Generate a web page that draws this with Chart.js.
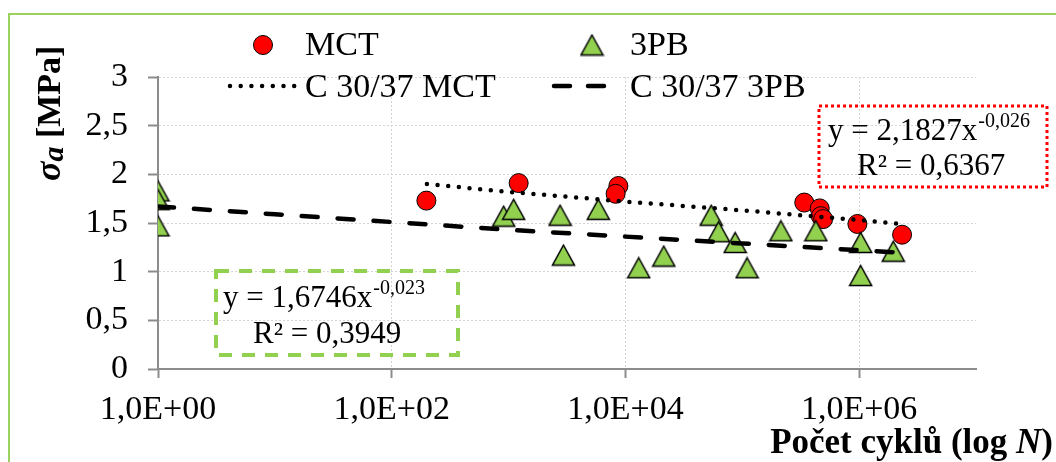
<!DOCTYPE html>
<html>
<head>
<meta charset="utf-8">
<script src="https://cdn.jsdelivr.net/npm/chart.js@4/dist/chart.umd.min.js"></script>
<style>
  html, body { margin: 0; padding: 0; background: #fff; }
  #wrap { width: 1056px; height: 462px; position: relative; }
</style>
</head>
<body>
<div id="wrap"><canvas id="fatigueChart" width="1056" height="462"></canvas></div>
<script>
// ---- data ----
const mctCycles = [198, 1220, 8700, 8240, 339000, 460000, 470000, 492000, 966000, 2330000];
const mctStress = [1.73, 1.91, 1.88, 1.80, 1.71, 1.65, 1.57, 1.54, 1.49, 1.38];

const pbCycles = [1, 1, 1, 908, 1105, 2760, 2950, 5860, 13000, 21300, 54200, 62700, 86900, 110000, 214000, 426000, 1030000, 1030000, 1960000];
const pbStress = [1.83, 1.74, 1.47, 1.57, 1.64, 1.58, 1.17, 1.64, 1.04, 1.16, 1.58, 1.41, 1.30, 1.04, 1.42, 1.42, 1.30, 0.96, 1.21];

// trend lines (C 30/37), read at a few cycle counts
const mctTrendCycles = [200, 1000, 10000, 100000, 1000000, 2330000];
const mctTrendStress = [1.90, 1.82, 1.72, 1.63, 1.53, 1.49];
const pbTrendCycles = [1, 10, 100, 1000, 10000, 100000, 1000000, 1960000];
const pbTrendStress = [1.67, 1.59, 1.51, 1.43, 1.36, 1.29, 1.22, 1.20];

const xTickValues = [1, 1e2, 1e4, 1e6];
const xTickLabels = ['1,0E+00', '1,0E+02', '1,0E+04', '1,0E+06'];
const yTickLabels = ['0', '0,5', '1', '1,5', '2', '2,5', '3'];

const GREEN = '#92d050';
const RED = '#ff0000';
const SERIF = '"Liberation Serif", "Times New Roman", serif';

function toPoints(xs, ys) {
  return xs.map((x, i) => ({ x: x, y: ys[i] }));
}

// excel-like triangle marker, centred on its bounding box
const triMarker = document.createElement('canvas');
triMarker.width = 25;
triMarker.height = 23;
(function () {
  const c = triMarker.getContext('2d');
  c.beginPath();
  c.moveTo(12.5, 1.5);
  c.lineTo(23.5, 21.5);
  c.lineTo(1.5, 21.5);
  c.closePath();
  c.fillStyle = GREEN;
  c.fill();
  c.lineWidth = 1.5;
  c.strokeStyle = '#000';
  c.lineJoin = 'miter';
  c.stroke();
})();

// legend, axis titles, equation boxes, outer frame
const overlayPlugin = {
  id: 'overlay',
  beforeDraw(chart) {
    const ctx = chart.ctx;
    ctx.save();
    ctx.strokeStyle = '#9bd15f';
    ctx.lineWidth = 2;
    ctx.beginPath();
    ctx.moveTo(9, 462);
    ctx.lineTo(9, 14);
    ctx.lineTo(1056, 14);
    ctx.stroke();
    ctx.restore();
  },
  afterDraw(chart) {
    const ctx = chart.ctx;
    ctx.save();
    ctx.fillStyle = '#000';
    ctx.textBaseline = 'alphabetic';
    ctx.textAlign = 'left';

    // legend row 1
    ctx.beginPath();
    ctx.arc(263, 45, 9.5, 0, Math.PI * 2);
    ctx.fillStyle = RED;
    ctx.fill();
    ctx.lineWidth = 1;
    ctx.strokeStyle = '#000';
    ctx.stroke();
    ctx.drawImage(triMarker, 592 - 12.5, 45 - 11.5);
    ctx.fillStyle = '#000';
    ctx.font = '34px ' + SERIF;
    ctx.fillText('MCT', 305, 55);
    ctx.fillText('3PB', 630, 55);

    // legend row 2
    ctx.lineCap = 'round';
    ctx.lineWidth = 4.5;
    ctx.setLineDash([0, 10.7]);
    ctx.beginPath();
    ctx.moveTo(230, 86);
    ctx.lineTo(295, 86);
    ctx.stroke();
    ctx.lineWidth = 4.5;
    ctx.setLineDash([16, 18]);
    ctx.beginPath();
    ctx.moveTo(554, 86);
    ctx.lineTo(608, 86);
    ctx.stroke();
    ctx.setLineDash([]);
    ctx.lineCap = 'butt';
    ctx.fillText('C 30/37 MCT', 305, 97);
    ctx.fillText('C 30/37 3PB', 630, 97);

    // equation boxes
    ctx.lineWidth = 3;
    ctx.strokeStyle = RED;
    ctx.setLineDash([3, 3]);
    ctx.strokeRect(819, 106, 228, 81);
    ctx.lineWidth = 4;
    ctx.strokeStyle = GREEN;
    ctx.setLineDash([13, 10]);
    ctx.strokeRect(216, 271, 242, 84);
    ctx.setLineDash([]);

    function eq(x, y, main, sup) {
      ctx.font = '31px ' + SERIF;
      ctx.fillText(main, x, y);
      const w = ctx.measureText(main).width;
      ctx.font = '20px ' + SERIF;
      ctx.fillText(sup, x + w + 1, y - 13);
    }
    ctx.fillStyle = '#000';
    eq(828, 140, 'y = 2,1827x', '-0,026');
    ctx.font = '31px ' + SERIF;
    ctx.fillText('R\u00b2 = 0,6367', 857, 175);
    eq(223, 307, 'y = 1,6746x', '-0,023');
    ctx.font = '31px ' + SERIF;
    ctx.fillText('R\u00b2 = 0,3949', 253, 343);

    // x axis title
    const part1 = 'Počet cyklů (log ';
    ctx.font = 'bold 35px ' + SERIF;
    const w1 = ctx.measureText(part1).width;
    ctx.font = 'italic bold 35px ' + SERIF;
    const w2 = ctx.measureText('N').width;
    ctx.font = 'bold 35px ' + SERIF;
    const w3 = ctx.measureText(')').width;
    let tx = 1053 - (w1 + w2 + w3);
    ctx.fillText(part1, tx, 453);
    ctx.font = 'italic bold 35px ' + SERIF;
    ctx.fillText('N', tx + w1, 453);
    ctx.font = 'bold 35px ' + SERIF;
    ctx.fillText(')', tx + w1 + w2, 453);

    // y axis title (rotated)
    ctx.translate(60, 181);
    ctx.rotate(-Math.PI / 2);
    ctx.font = 'italic bold 36px ' + SERIF;
    ctx.fillText('σ', 0, 0);
    let ox = ctx.measureText('σ').width;
    ctx.font = 'italic bold 30px ' + SERIF;
    ctx.fillText('a', ox, 3);
    ox += ctx.measureText('a').width;
    ctx.font = 'bold 34px ' + SERIF;
    ctx.fillText(' [MPa]', ox, 0);
    ctx.restore();
  }
};

const fatigueData = {
  datasets: [
    {
      label: 'C 30/37 3PB',
      data: toPoints(pbTrendCycles, pbTrendStress),
      showLine: true,
      borderColor: '#000',
      borderWidth: 4.5,
      borderDash: [16, 20],
      borderCapStyle: 'round',
      pointRadius: 0,
      tension: 0,
      order: 0,
    },
    {
      label: 'C 30/37 MCT',
      data: toPoints(mctTrendCycles, mctTrendStress),
      showLine: true,
      borderColor: '#000',
      borderWidth: 4.5,
      borderDash: [0, 10.7],
      borderCapStyle: 'round',
      pointRadius: 0,
      tension: 0,
      order: 1,
    },
    {
      label: '3PB',
      data: toPoints(pbCycles, pbStress),
      pointStyle: triMarker,
      pointRadius: 11,
      order: 2,
    },
    {
      label: 'MCT',
      data: toPoints(mctCycles, mctStress),
      pointStyle: 'circle',
      pointRadius: 9.5,
      pointBackgroundColor: RED,
      pointBorderColor: '#000',
      pointBorderWidth: 1,
      order: 3,
    },
  ],
};

const fatigueConfig = {
  type: 'scatter',
  data: fatigueData,
  plugins: [overlayPlugin],
  options: {
    responsive: false,
    animation: false,
    events: [],
    layout: {
      padding: { left: 0, right: 80, top: 77, bottom: 0 },
    },
    plugins: {
      legend: { display: false },
      title: { display: false },
      tooltip: { enabled: false },
    },
    scales: {
      x: {
        type: 'logarithmic',
        min: 1,
        max: 1e7,
        afterBuildTicks: function (scale) {
          scale.ticks = xTickValues.map((v) => ({ value: v }));
        },
        afterFit: function (scale) {
          scale.height = 93;
        },
        ticks: {
          autoSkip: false,
          maxRotation: 0,
          padding: 12,
          color: '#000',
          font: { family: SERIF, size: 34 },
          callback: function (value, index) {
            return xTickLabels[index];
          },
        },
        grid: {
          color: function (ctx) {
            return ctx.tick && ctx.tick.value === 1 ? 'rgba(0,0,0,0)' : '#d4d4d4';
          },
          lineWidth: 1,
          tickLength: 9,
          tickColor: '#8c8c8c',
          tickWidth: 2,
        },
        border: {
          color: '#8c8c8c',
          width: 2,
          dash: [2, 2],
        },
      },
      y: {
        min: 0,
        max: 3,
        afterFit: function (scale) {
          scale.width = 158;
        },
        ticks: {
          stepSize: 0.5,
          padding: 20,
          color: '#000',
          font: { family: SERIF, size: 34 },
          callback: function (value, index) {
            return yTickLabels[index];
          },
        },
        grid: {
          color: function (ctx) {
            return ctx.tick && ctx.tick.value === 0 ? 'rgba(0,0,0,0)' : '#d4d4d4';
          },
          lineWidth: 1,
          tickLength: 10,
          tickColor: '#8c8c8c',
          tickWidth: 2,
        },
        border: {
          color: '#8c8c8c',
          width: 2,
          dash: [2, 2],
        },
      },
    },
  },
};

const fatigueChart = new Chart(
  document.getElementById('fatigueChart'),
  fatigueConfig
);
</script>
</body>
</html>
